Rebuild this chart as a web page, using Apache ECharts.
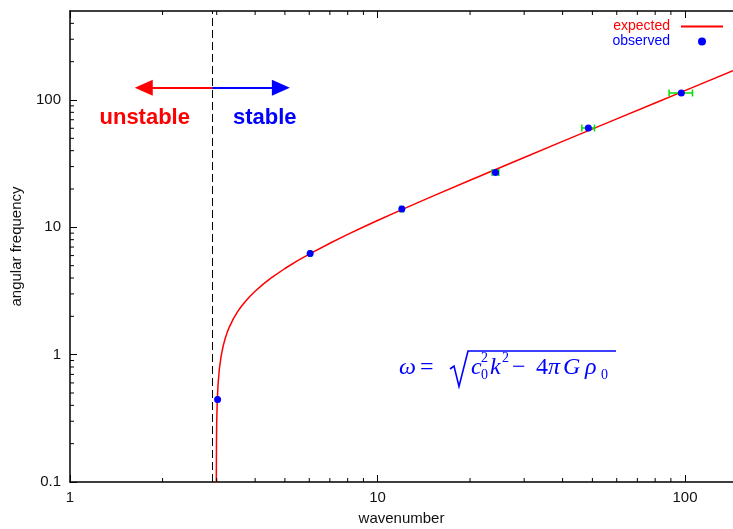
<!DOCTYPE html>
<html>
<head>
<meta charset="utf-8">
<script src="https://cdn.jsdelivr.net/npm/echarts@6/dist/echarts.min.js"></script>
<style>html,body{margin:0;padding:0;background:#fff}#c{width:733px;height:529px}</style>
</head>
<body>
<div id="c"></div>
<script>
// ---- axis ranges & ticks ----
const xMin = 1, xMax = 143.3;
const yMin = 0.1, yMax = 500;
const xMinorTicks = [2, 3, 4, 5, 6, 7, 8, 9, 20, 30, 40, 50, 60, 70, 80, 90];
const yMinorTicks = [0.2, 0.3, 0.4, 0.5, 0.6, 0.7, 0.8, 0.9, 2, 3, 4, 5, 6, 7, 8, 9,
                     20, 30, 40, 50, 60, 70, 80, 90, 200, 300, 400];

// ---- expected curve ----
const curveK = [2.9902, 2.9911, 2.995, 3.0, 3.01, 3.03, 3.06, 3.1, 3.15, 3.2, 3.25, 3.3, 3.4, 3.5, 3.6, 3.7,
                3.85, 4.0, 4.25, 4.5, 5.0, 5.5, 6.0, 7.0, 8.0, 9.0, 10, 12, 15, 20, 30, 40, 60, 80, 100, 143.3];
const curveOmega = [0.05, 0.1, 0.207, 0.292, 0.412, 0.582, 0.772, 0.971, 1.175, 1.352, 1.510, 1.655, 1.919, 2.157, 2.377, 2.583,
                    2.875, 3.150, 3.580, 3.986, 4.750, 5.472, 6.166, 7.502, 8.796, 10.062, 11.311, 13.775, 17.423, 23.44, 35.383, 47.28, 71.031, 94.76, 118.48, 169.8];

// ---- observed points ----
const obsK = [3.02, 6.04, 12.0, 24.2, 48.5, 97.3];
const obsOmega = [0.444, 6.22, 13.9, 27.0, 60.3, 113.5];
const obsKErr = [0.02, 0.06, 0.15, 0.6, 2.3, 8.5];

// ---- annotations ----
const jeansK = 2.9;
const arrowOmega = 125;
const arrowLeftK = 1.737, arrowRightK = 4.85;
const labelOmega = 71.8;
const unstableK = 1.75, stableK = 4.30;

const FONT = 'Liberation Sans, Arial, Helvetica, sans-serif';
const SERIF = 'Liberation Serif, Times New Roman, serif';

const chart = echarts.init(document.getElementById('c'), null, {renderer: 'canvas'});

const axisCommon = {
  type: 'log', logBase: 10,
  axisLine: {show: true, lineStyle: {color: '#000', width: 1.5}},
  axisTick: {show: true, inside: true, length: 7, lineStyle: {color: '#000', width: 1}},
  splitLine: {show: false},
  minorTick: {show: false},
  minorSplitLine: {show: false}
};

function tickRenderer(isX) {
  return function (params, api) {
    const v = api.value(isX ? 0 : 1);
    const a = isX ? api.coord([v, yMin]) : api.coord([xMin, v]);
    const b = isX ? api.coord([v, yMax]) : api.coord([xMax, v]);
    const L = 4;
    const st = {stroke: '#000', lineWidth: 1};
    if (isX) {
      return {type: 'group', children: [
        {type: 'line', shape: {x1: a[0], y1: a[1], x2: a[0], y2: a[1] - L}, style: st},
        {type: 'line', shape: {x1: b[0], y1: b[1], x2: b[0], y2: b[1] + L}, style: st}
      ]};
    }
    return {type: 'group', children: [
      {type: 'line', shape: {x1: a[0], y1: a[1], x2: a[0] + L, y2: a[1]}, style: st}
    ]};
  };
}

const option = {
  animation: false,
  backgroundColor: '#fff',
  grid: {left: 70, right: 0, top: 11, bottom: 47, containLabel: false, outerBoundsMode: 'none'},
  legend: {
    orient: 'vertical', right: 5, top: 14, align: 'right',
    itemWidth: 42, itemHeight: 8, itemGap: 0,
    selectedMode: false,
    textStyle: {fontSize: 14, fontFamily: FONT, lineHeight: 15, padding: [0, 6, 0, 0]},
    data: [
      {name: 'expected', icon: 'path://M0,0H40V2H0Z', itemStyle: {color: '#ff0000'}, textStyle: {color: '#ff0000'}},
      {name: 'observed', icon: 'circle', itemStyle: {color: '#0000ff', opacity: 1}, textStyle: {color: '#0000ff'}}
    ]
  },
  xAxis: [
    Object.assign({}, axisCommon, {
      position: 'bottom', min: xMin, max: xMax, splitNumber: 2,
      name: 'wavenumber', nameLocation: 'middle', nameGap: 29,
      nameTextStyle: {fontSize: 15, fontFamily: FONT, color: '#111'},
      axisLabel: {show: true, margin: 8, fontSize: 15, fontFamily: FONT, color: '#111',
                  showMinLabel: true, showMaxLabel: false}
    }),
    Object.assign({}, axisCommon, {
      position: 'top', min: xMin, max: xMax, splitNumber: 2,
      axisLabel: {show: false}
    })
  ],
  yAxis: [
    Object.assign({}, axisCommon, {
      position: 'left', min: yMin, max: yMax, splitNumber: 4,
      name: 'angular frequency', nameLocation: 'middle', nameGap: 46, nameRotate: 90,
      nameTextStyle: {fontSize: 15, fontFamily: FONT, color: '#111'},
      axisLabel: {show: true, margin: 9, fontSize: 15, fontFamily: FONT, color: '#111',
                  showMinLabel: true, showMaxLabel: false}
    })
  ],
  series: [
    {
      name: 'minorX', type: 'custom', silent: true, clip: false, z: 5,
      data: xMinorTicks.map(v => [v, yMin]),
      renderItem: tickRenderer(true)
    },
    {
      name: 'minorY', type: 'custom', silent: true, clip: false, z: 5,
      data: yMinorTicks.map(v => [xMin, v]),
      renderItem: tickRenderer(false)
    },
    {
      name: 'expected', type: 'line', symbol: 'none', showSymbol: false, smooth: false,
      clip: true, z: 3,
      lineStyle: {color: '#ff0000', width: 1.5},
      itemStyle: {color: '#ff0000'},
      emphasis: {disabled: true},
      data: curveK.map((k, i) => [k, curveOmega[i]])
    },
    {
      name: 'errorbars', type: 'custom', silent: true, z: 4,
      data: obsK.map((k, i) => [k, obsOmega[i], k - obsKErr[i], k + obsKErr[i]]),
      renderItem: function (params, api) {
        const w = api.value(1);
        const p1 = api.coord([api.value(2), w]);
        const p2 = api.coord([api.value(3), w]);
        const st = {stroke: '#00e000', lineWidth: 1.5};
        const h = 3.5;
        return {type: 'group', children: [
          {type: 'line', shape: {x1: p1[0], y1: p1[1], x2: p2[0], y2: p2[1]}, style: st},
          {type: 'line', shape: {x1: p1[0], y1: p1[1] - h, x2: p1[0], y2: p1[1] + h}, style: st},
          {type: 'line', shape: {x1: p2[0], y1: p2[1] - h, x2: p2[0], y2: p2[1] + h}, style: st}
        ]};
      }
    },
    {
      name: 'observed', type: 'scatter', symbol: 'circle', symbolSize: 7, z: 6,
      itemStyle: {color: '#0000ff', opacity: 1},
      emphasis: {disabled: true},
      data: obsK.map((k, i) => [k, obsOmega[i]]),
      markLine: {
        silent: true, animation: false,
        label: {show: false},
        emphasis: {disabled: true},
        symbol: ['none', 'none'],
        data: [
          [{coord: [jeansK, yMin], symbol: 'none', lineStyle: {color: '#000', width: 1, type: [8, 4]}},
           {coord: [jeansK, yMax], symbol: 'none'}],
          [{coord: [jeansK, arrowOmega], symbol: 'none', lineStyle: {color: '#ff0000', width: 2, type: 'solid'}, itemStyle: {color: '#ff0000'}},
           {coord: [arrowLeftK, arrowOmega], symbol: 'triangle', symbolSize: [16, 18], itemStyle: {color: '#ff0000'}}],
          [{coord: [jeansK, arrowOmega], symbol: 'none', lineStyle: {color: '#0000ff', width: 2, type: 'solid'}, itemStyle: {color: '#0000ff'}},
           {coord: [arrowRightK, arrowOmega], symbol: 'triangle', symbolSize: [16, 18], itemStyle: {color: '#0000ff'}}]
        ]
      }
    }
  ]
};

chart.setOption(option);

// ---- text annotations placed through the axes ----
const pU = chart.convertToPixel({xAxisIndex: 0, yAxisIndex: 0}, [unstableK, labelOmega]);
const pS = chart.convertToPixel({xAxisIndex: 0, yAxisIndex: 0}, [stableK, labelOmega]);

function t(text, x, y, size, italic) {
  return {type: 'text', x: x, y: y, silent: true,
    style: {text: text, fill: '#0000ff', fontSize: size, fontFamily: SERIF,
            fontStyle: italic ? 'italic' : 'normal', align: 'left', verticalAlign: 'middle'}};
}
const base = 376, supBase = 363.5, subBase = 380;
const M = 24, S = 14;
const my = base - 0.3375 * M, supy = supBase - 0.3375 * S, suby = subBase - 0.3375 * S;

chart.setOption({
  graphic: [
    {type: 'text', x: pU[0], y: pU[1], silent: true,
     style: {text: 'unstable', fill: '#ff0000', fontSize: 22, fontWeight: 'bold', fontFamily: FONT,
             align: 'center', verticalAlign: 'middle'}},
    {type: 'text', x: pS[0], y: pS[1], silent: true,
     style: {text: 'stable', fill: '#0000ff', fontSize: 22, fontWeight: 'bold', fontFamily: FONT,
             align: 'center', verticalAlign: 'middle'}},
    {type: 'group', silent: true, children: [
      t('ω', 399, my, M, true),
      t('=', 420, my, M, false),
      {type: 'polyline', shape: {points: [[450, 369], [454, 366], [459, 386.5], [468, 351], [616, 351]]},
       style: {stroke: '#0000ff', lineWidth: 1.6, fill: null}},
      t('c', 471, my, M, true),
      t('0', 481, suby, S, false),
      t('2', 481, supy, S, false),
      t('k', 490, my, M, true),
      t('2', 502, supy, S, false),
      t('−', 512, my, M, false),
      t('4', 536, my, M, false),
      t('π', 548, my, M, true),
      t('G', 563, my, M, true),
      t('ρ', 585, my, M, true),
      t('0', 601, suby, S, false)
    ]}
  ]
});
</script>
</body>
</html>
